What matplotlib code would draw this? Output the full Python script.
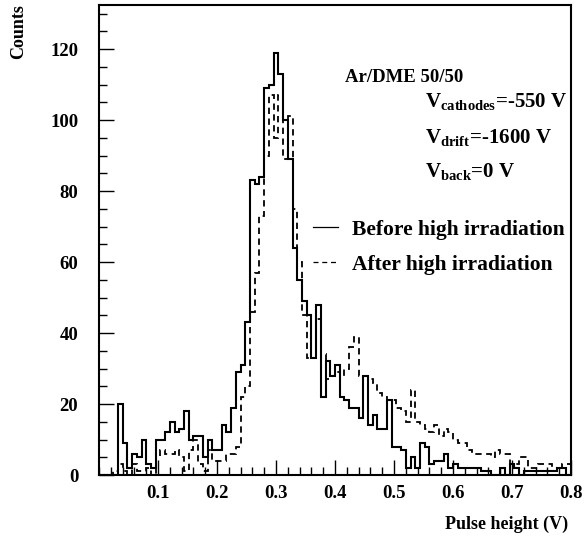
import numpy as np
import matplotlib
matplotlib.use("Agg")
import matplotlib.pyplot as plt
from matplotlib.lines import Line2D
from matplotlib.ticker import MultipleLocator

# histogram binning: 100 bins from 0 to 0.8 V
x_min, x_max, n_bins = 0.0, 0.8, 100
edges = np.linspace(x_min, x_max, n_bins + 1)

# counts per bin, before high irradiation
before = [0, 0, 0, 0, 20, 9, 2, 6, 5, 10,
          3, 2, 10, 10, 12, 15, 12, 13, 18, 10,
          11, 11, 5, 10, 7, 7, 14, 12, 19, 29,
          31, 43, 83, 82, 84, 109, 110, 119, 113, 100,
          89, 64, 55, 49, 45, 33, 48, 22, 32, 28,
          31, 22, 21, 19, 19, 16, 28, 14, 17, 13,
          13, 21, 8, 8, 7, 2, 5, 2, 9, 8,
          3, 4, 4, 6, 2, 3, 2, 2, 2, 2,
          2, 1, 1, 0, 0, 2, 0, 3, 2, 0,
          1, 1, 1, 1, 1, 1, 1, 2, 2, 0]

# counts per bin, after high irradiation
after = [0, 0, 0, 1, 3, 1, 0, 3, 1, 1,
         2, 0, 5, 7, 6, 6, 7, 5, 1, 7,
         10, 3, 1, 7, 4, 4, 4, 6, 6, 8,
         22, 25, 46, 57, 73, 90, 107, 95, 107, 89,
         101, 75, 60, 45, 33, 33, 44, 34, 27, 28,
         29, 28, 30, 36, 39, 28, 28, 27, 26, 23,
         22, 21, 21, 19, 18, 15, 24, 15, 14, 13,
         12, 14, 11, 13, 12, 10, 9, 9, 7, 6,
         6, 6, 6, 5, 7, 6, 6, 3, 3, 5,
         5, 2, 2, 3, 3, 3, 1, 2, 3, 3]

y_ticks = [0, 20, 40, 60, 80, 100, 120]
x_ticks = [0.1, 0.2, 0.3, 0.4, 0.5, 0.6, 0.7, 0.8]

plt.rcParams['font.family'] = ['Liberation Serif', 'DejaVu Serif']
plt.rcParams['font.weight'] = 'bold'
plt.rcParams['mathtext.fontset'] = 'custom'
plt.rcParams['mathtext.rm'] = 'Liberation Serif:bold'
plt.rcParams['mathtext.bf'] = 'Liberation Serif:bold'

fig = plt.figure(figsize=(5.87, 5.43), dpi=100)
ax = fig.add_axes([0.1687, 0.1252, 0.804, 0.8656])

ax.stairs(before, edges, color='black', lw=1.5, baseline=None)
ax.stairs(after, edges, color='black', lw=1.3, ls=(0, (3.5, 2.5)), baseline=None)

ax.set_xlim(x_min, x_max)
ax.set_ylim(0, 132.4)

ax.set_xticks(x_ticks)
ax.set_xticklabels([f"{t:.1f}" for t in x_ticks])
ax.xaxis.set_minor_locator(MultipleLocator(0.02))
ax.set_yticks(y_ticks)
ax.yaxis.set_minor_locator(MultipleLocator(5))
ax.tick_params(which='both', direction='in', top=False, right=False,
               labelsize=13.5, width=1)
ax.tick_params(which='major', length=11)
ax.tick_params(which='minor', length=5.5)
ax.tick_params(axis='x', which='major', pad=7)
ax.tick_params(axis='y', which='major', pad=15)
for lbl in ax.get_xticklabels() + ax.get_yticklabels():
    lbl.set_fontweight('bold')
for sp in ax.spines.values():
    sp.set_linewidth(1.5)

fig.text(0.032, 0.992, 'Counts', rotation=90, ha='center', va='top',
         fontsize=13, fontweight='bold')
fig.text(0.968, 0.025, 'Pulse height (V)', ha='right', va='baseline',
         fontsize=13, fontweight='bold')

ax.text(0.521, 0.836, 'Ar/DME 50/50', transform=ax.transAxes,
        va='baseline', fontsize=13.5, fontweight='bold')
ax.text(0.6907, 0.783, r'V$_{\mathrm{cathodes}}$=-550 V', transform=ax.transAxes,
        va='baseline', fontsize=15, fontweight='bold')
ax.text(0.6907, 0.706, r'V$_{\mathrm{drift}}$=-1600 V', transform=ax.transAxes,
        va='baseline', fontsize=15, fontweight='bold')
ax.text(0.6907, 0.634, r'V$_{\mathrm{back}}$=0 V', transform=ax.transAxes,
        va='baseline', fontsize=15, fontweight='bold')

handles = [Line2D([], [], color='black', lw=0.9),
           Line2D([], [], color='black', lw=0.9, ls=(0, (4, 3)))]
ax.legend(handles, ['Before high irradiation', 'After high irradiation'],
          loc='upper left', bbox_to_anchor=(0.4534, 0.543), frameon=False,
          prop={'size': 15.5, 'weight': 'bold'}, handlelength=1.16,
          handletextpad=0.65, labelspacing=0.7, borderpad=0, borderaxespad=0)

fig.savefig('out.png', dpi=100)
